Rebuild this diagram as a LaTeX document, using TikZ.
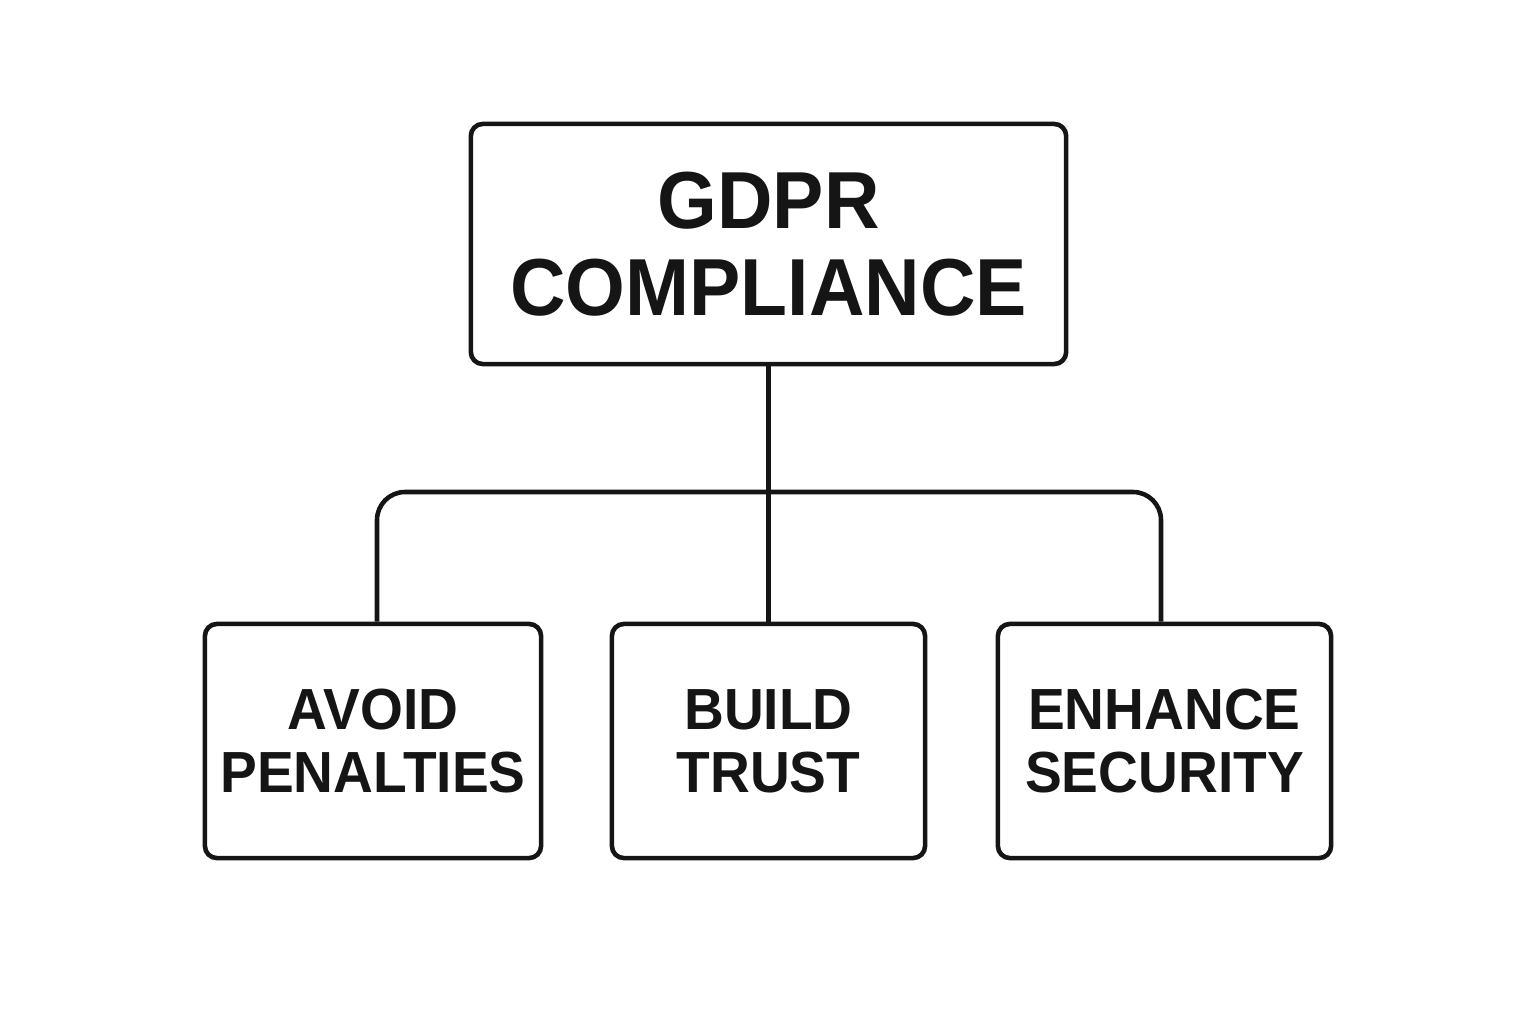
\documentclass[tikz,border=0pt]{standalone}
\usepackage{fontspec}
\newfontfamily\boxfont[FakeStretch=0.95]{Liberation Sans}
\definecolor{ink}{HTML}{151515}
\begin{document}
\begin{tikzpicture}[x=0.01cm,y=-0.01cm,
  box/.style={draw=ink, line width=1.3pt, rounded corners=0.12cm, align=center, inner sep=0pt, text=ink},
  bigbox/.style={box, minimum width=5.95cm, minimum height=2.40cm, font=\boxfont\bfseries\fontsize{23}{24.8}\selectfont},
  smallbox/.style={box, minimum height=2.34cm, font=\boxfont\bfseries\fontsize{16.5}{17.9}\selectfont},
  conn/.style={draw=ink, line width=1.3pt}]
\useasboundingbox (0,0) rectangle (1536,1024);
\node[bigbox] (top) at (768.5,244) {GDPR\\COMPLIANCE};
\node[smallbox, minimum width=3.36cm] (left) at (373,741) {AVOID\\PENALTIES};
\node[smallbox, minimum width=3.13cm] (mid) at (768.5,741) {BUILD\\TRUST};
\node[smallbox, minimum width=3.33cm] (right) at (1164.5,741) {ENHANCE\\SECURITY};
\coordinate (hy) at (768,492);
\draw[conn] (top.south) -- (mid.north);
\draw[conn, rounded corners=0.28cm] ([xshift=0.04cm]left.north) |- (hy) -| ([xshift=-0.035cm]right.north);
\end{tikzpicture}
\end{document}
